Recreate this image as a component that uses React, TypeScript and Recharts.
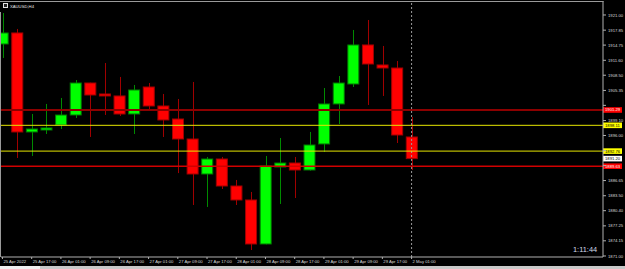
import { Bar, ComposedChart, ReferenceLine, XAxis, YAxis } from "recharts";

// XAUUSD H4 candles
const times = [
  "25 Apr 09:00", "25 Apr 13:00", "25 Apr 17:00", "25 Apr 21:00",
  "26 Apr 01:00", "26 Apr 05:00", "26 Apr 09:00", "26 Apr 13:00", "26 Apr 17:00", "26 Apr 21:00",
  "27 Apr 01:00", "27 Apr 05:00", "27 Apr 09:00", "27 Apr 13:00", "27 Apr 17:00", "27 Apr 21:00",
  "28 Apr 01:00", "28 Apr 05:00", "28 Apr 09:00", "28 Apr 13:00", "28 Apr 17:00", "28 Apr 21:00",
  "29 Apr 01:00", "29 Apr 05:00", "29 Apr 09:00", "29 Apr 13:00", "29 Apr 17:00", "29 Apr 21:00",
  "2 May 01:00",
];
const opens = [
  1914.98, 1917.27, 1896.73, 1897.14, 1898.18, 1900.25, 1906.89, 1904.61, 1904.2, 1900.46,
  1906.06, 1902.12, 1899.42, 1895.27, 1888.01, 1891.12, 1885.52, 1882.62, 1873.49, 1889.46,
  1890.29, 1888.84, 1894.24, 1902.54, 1906.68, 1914.78, 1910.63, 1910.0, 1895.69,
];
const highs = [
  1921.41, 1918.1, 1900.46, 1902.54, 1903.78, 1907.51, 1906.95, 1911.04, 1908.14, 1906.48,
  1906.89, 1904.61, 1903.57, 1907.1, 1891.54, 1891.54, 1886.77, 1884.28, 1891.75, 1895.48,
  1891.54, 1896.73, 1905.85, 1908.34, 1917.89, 1919.96, 1914.57, 1911.46, 1899.84,
];
const lows = [
  1912.08, 1891.33, 1891.75, 1896.31, 1897.35, 1899.63, 1895.69, 1900.25, 1900.05, 1896.31,
  1901.29, 1895.69, 1888.2, 1881.58, 1881.17, 1884.9, 1881.58, 1872.24, 1873.4, 1881.79,
  1883.03, 1888.7, 1892.58, 1898.39, 1906.06, 1902.33, 1904.2, 1894.44, 1888.84,
];
const closes = [
  1917.27, 1896.73, 1897.35, 1897.56, 1900.25, 1906.89, 1904.4, 1904.2, 1900.46, 1905.44,
  1902.12, 1899.22, 1895.27, 1888.01, 1891.12, 1885.52, 1882.62, 1873.49, 1889.67, 1890.29,
  1888.84, 1894.03, 1902.54, 1906.89, 1914.78, 1910.83, 1910.0, 1896.1, 1891.2,
];

const xTicks = [0, 2, 4, 6, 8, 10, 12, 14, 16, 18, 20, 22, 24, 26, 28];
const xTickLabels = [
  "25 Apr 2022", "25 Apr 17:00", "26 Apr 01:00", "26 Apr 09:00", "26 Apr 17:00",
  "27 Apr 01:00", "27 Apr 09:00", "27 Apr 17:00", "28 Apr 01:00", "28 Apr 09:00",
  "28 Apr 17:00", "29 Apr 01:00", "29 Apr 09:00", "29 Apr 17:00", "2 May 01:00",
];
const yTickLabels = [
  "1921.00", "1917.85", "1914.75", "1911.60", "1908.50", "1905.35", "1902.25", "1899.10",
  "1896.00", "1892.85", "1889.75", "1886.65", "1883.50", "1880.40", "1877.25", "1874.15", "1871.00",
];

// horizontal lines drawn on the chart
const levelPrices = [1901.29, 1898.11, 1892.76, 1889.63];
const levelColors = ["#8c0000", "#e6e600", "#e6e600", "#d00000"];
const tagColors = ["#ff0000", "#ffff00", "#ffff00", "#ff0000"];
const tagText = ["#ffffff", "#000000", "#000000", "#ffffff"];
const levelWidths = [2, 1, 1, 1.5];
const bidPrice = 1891.2;

const data = times.map((t, i) => ({
  i,
  time: t,
  open: opens[i],
  high: highs[i],
  low: lows[i],
  close: closes[i],
  range: [lows[i], highs[i]],
}));

const FONT = "'Liberation Sans', Arial, sans-serif";
const PX_PER_USD = 4.82;

function Candle(props: any) {
  const { x, y, width, height, payload } = props;
  const top = height < 0 ? y + height : y;
  const h = Math.abs(height);
  const k = h / (payload.high - payload.low);
  const yO = top + (payload.high - payload.open) * k;
  const yC = top + (payload.high - payload.close) * k;
  const up = payload.close >= payload.open;
  const cx = Math.round(x + width / 2) + 0.5;
  return (
    <g>
      <line x1={cx} x2={cx} y1={top} y2={top + h} stroke={up ? "#008a00" : "#a00000"} strokeWidth={1} />
      <rect
        x={x}
        y={Math.min(yO, yC)}
        width={width}
        height={Math.max(Math.abs(yO - yC), 1)}
        fill={up ? "#00ff00" : "#ff0000"}
        stroke={up ? "#007800" : "#a00000"}
        strokeWidth={1}
      />
    </g>
  );
}

function XTick(props: any) {
  const { x, y, payload } = props;
  const idx = xTicks.indexOf(payload.value);
  return (
    <g>
      <line x1={x} x2={x} y1={y} y2={y + 2} stroke="#b0b0b0" />
      <text x={x + 1} y={y + 6} fontSize={4.2} fill="#d8d8d8" fontFamily={FONT} textAnchor="start">
        {xTickLabels[idx]}
      </text>
    </g>
  );
}

function YTick(props: any) {
  const { x, y, payload } = props;
  const idx = yTickLabels.findIndex((s) => Number(s) === payload.value);
  // MT4 skips grid labels that sit under a price tag
  const hidden = [...levelPrices, bidPrice].some((p) => Math.abs(p - payload.value) * PX_PER_USD < 4.7);
  return (
    <g>
      <line x1={x - 4} x2={x - 1} y1={y} y2={y} stroke="#b0b0b0" />
      {!hidden && (
        <text x={x + 1} y={y + 1.6} fontSize={4.2} fill="#d8d8d8" fontFamily={FONT} textAnchor="start">
          {yTickLabels[idx]}
        </text>
      )}
    </g>
  );
}

function PriceTag(props: any) {
  const { viewBox, text, bg, fg } = props;
  if (!viewBox) return null;
  const x = viewBox.x + viewBox.width;
  const y = viewBox.y;
  return (
    <g>
      <rect x={x} y={y - 2.8} width={19} height={5.6} fill={bg} />
      <text x={x + 2} y={y + 1.5} fontSize={4.2} fill={fg} fontFamily={FONT}>
        {text}
      </text>
    </g>
  );
}

export default function App() {
  return (
    <div style={{ position: "relative", width: 625, height: 269, background: "#000", overflow: "hidden" }}>
      <style>{"body{margin:0}"}</style>
      <ComposedChart
        width={625}
        height={269}
        data={data}
        margin={{ top: 1, right: 0, bottom: 0, left: 1 }}
        style={{ background: "#000" }}
      >
        <XAxis
          dataKey="i"
          type="number"
          domain={[-0.1, 41.1]}
          ticks={xTicks}
          allowDataOverflow
          height={12}
          stroke="#b0b0b0"
          tickLine={false}
          tickSize={0}
          tickMargin={0}
          tick={<XTick />}
          interval={0}
        />
        <YAxis
          orientation="right"
          type="number"
          domain={[1870.79, 1923.9]}
          ticks={yTickLabels.map(Number)}
          allowDataOverflow
          width={22}
          stroke="#b0b0b0"
          tickLine={false}
          tickSize={4}
          tickMargin={0}
          tick={<YTick />}
          interval={0}
        />
        <ReferenceLine x={28} stroke="#9a9a9a" strokeDasharray="2 2" />
        <Bar dataKey="range" barSize={11} shape={<Candle />} isAnimationActive={false} />
        {levelPrices.map((p, k) => (
          <ReferenceLine
            key={k}
            y={p}
            stroke={levelColors[k]}
            strokeWidth={levelWidths[k]}
            label={<PriceTag text={p.toFixed(2)} bg={tagColors[k]} fg={tagText[k]} />}
          />
        ))}
        <ReferenceLine
          y={bidPrice}
          stroke="none"
          label={<PriceTag text={bidPrice.toFixed(2)} bg="#ffffff" fg="#000" />}
        />
      </ComposedChart>
      <svg width={625} height={269} style={{ position: "absolute", left: 0, top: 0, pointerEvents: "none" }}>
        <line x1={0} x2={603.5} y1={1.5} y2={1.5} stroke="#9a9a9a" />
        <line x1={0.5} x2={0.5} y1={12} y2={257} stroke="#9a9a9a" />
        <rect x={3.5} y={3.5} width={4} height={4} fill="#222" stroke="#e0e0e0" />
        <text x={10} y={7.6} fontSize={4.2} fill="#e8e8e8" fontFamily={FONT}>
          XAUUSD,H4
        </text>
        <text x={573} y={251.5} fontSize={7.4} fill="#d0dae8" fontFamily={FONT}>
          1:11:44
        </text>
        <rect x={0} y={266} width={625} height={3} fill="#c8c8c8" />
        <rect x={0} y={266} width={40} height={3} fill="#f0f0f0" />
      </svg>
    </div>
  );
}
